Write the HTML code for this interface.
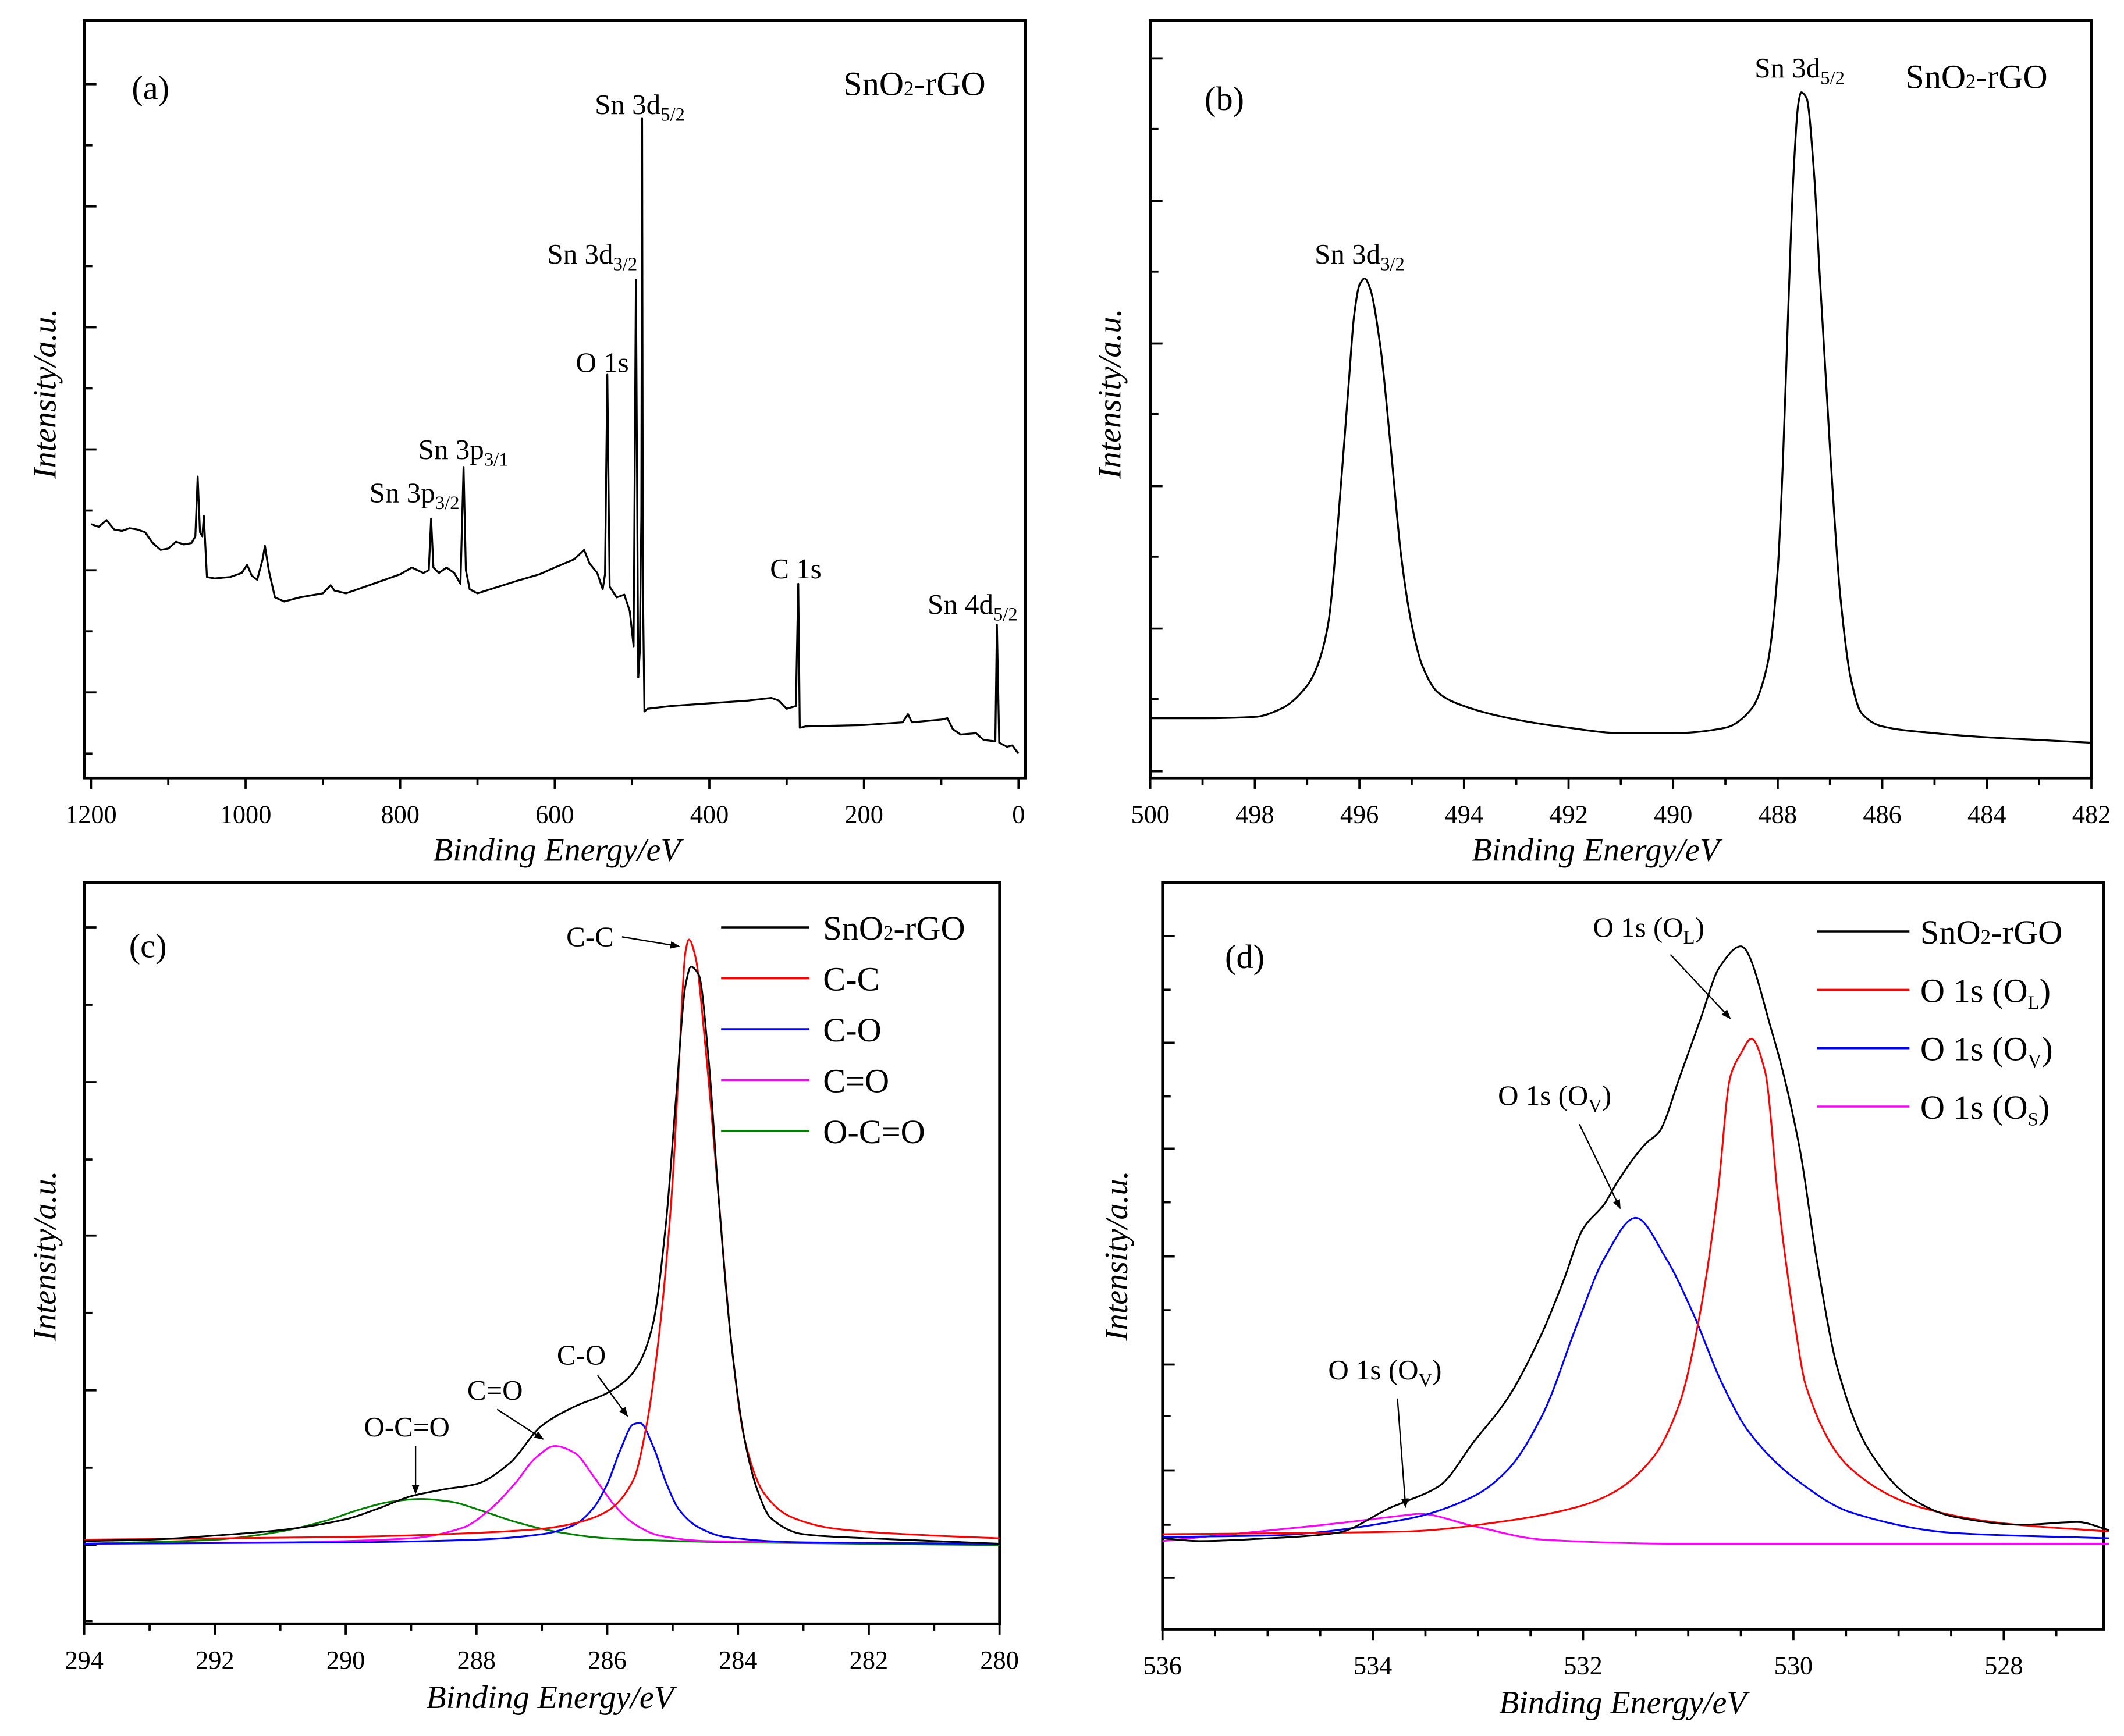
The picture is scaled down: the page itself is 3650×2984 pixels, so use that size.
<!DOCTYPE html>
<html><head><meta charset="utf-8"><style>
html,body{margin:0;padding:0;background:#fff;}
svg{display:block;}
text{font-family:"Liberation Serif",serif;fill:#000;}
.tick{font-size:19px;}
.ttl{font-size:24px;font-style:italic;}
.lbl{font-size:21px;}
.leg{font-size:25px;}
</style></head><body>
<svg id="fig" width="3650" height="2984" viewBox="0 0 1564 1278.6" xmlns="http://www.w3.org/2000/svg">
<defs><marker id="ah" viewBox="0 0 10 10" refX="9" refY="5" markerWidth="7" markerHeight="7" orient="auto"><path d="M0,1 L10,5 L0,9 z" fill="#000"/></marker></defs>
</svg>
<script>
// ---- panel (a) survey ----
const aEnergy=[1200,1190,1180,1170,1160,1150,1140,1130,1120,1110,1100,1090,1080,1070,1065,1062,1059,1056,1054,1050,1040,1020,1005,998,992,985,978,975,970,962,950,930,900,890,885,870,850,800,785,770,763,760,757,750,740,730,722,718,715,710,700,650,620,600,575,562,555,545,538,535,532,529,520,510,503,498,495,492,490,488,487,486,484,480,450,400,350,320,310,300,288,285,283,275,200,150,143,138,100,92,85,75,55,45,30,28,25,15,8,3,0];
const aIntensity=[214,212,217,210,209,211,210,208,200,195,196,201,199,200,205,249,208,205,220,175,174,175,178,184,176,173,188,198,180,160,157,160,163,169,165,163,167,177,182,178,180,218,182,178,182,178,170,256,180,166,163,172,177,182,188,195,185,178,166,177,324,168,160,162,150,124,394,101,120,220,513,170,76,78,80,82,84,86,84,78,80,170,64,65,66,68,74,68,70,71,63,59,60,55,54,140,53,50,51,47,45];
// ---- panel (b) Sn 3d ----
const bEnergy=[500,499,498,497.5,497,496.8,496.6,496.4,496.2,496.1,496,495.9,495.8,495.6,495.4,495.2,495,494.8,494.5,494,493,492,491,490,489,488.5,488.2,488,487.9,487.8,487.7,487.6,487.55,487.45,487.3,487.2,487,486.8,486.6,486.4,486,485,484,483,482];
const bIntensity=[71,71,72,78,95,110,140,220,320,368,390,395,388,345,270,190,140,110,90,80,70,64,60,60,64,78,110,180,260,370,470,525,532,528,470,400,270,160,100,75,65,60,57,55,53];
// ---- panel (c) C 1s ----
const cTotalE=[294,293,292,291,290,289.5,289,288.5,288,287.5,287,286.5,286,285.7,285.5,285.3,285.1,284.95,284.8,284.72,284.6,284.45,284.3,284.1,283.9,283.7,283.5,283,282,281,280];
const cTotalI=[65,66,69,73,81,89,98,103,107,122,150,164,174,184,197,225,300,390,475,488,482,420,320,210,140,102,82,70,67,65,63];
const cCCE=[294,290,288,287,286.5,286,285.6,285.4,285.2,285,284.9,284.8,284.75,284.65,284.5,284.3,284.1,283.9,283.6,283.2,282.5,281,280];
const cCCI=[66,68,71,74,78,87,110,150,220,330,420,500,508,495,430,320,210,140,100,83,74,69,67];
const cCOE=[294,290,288,287,286.5,286.2,286,285.8,285.6,285.5,285.3,285.1,284.9,284.6,284.2,283,280];
const cCOI=[63,64,66,70,77,90,107,132,151,152,135,108,88,75,68,64,63];
const cCdOE=[294,291,289,288.2,287.8,287.4,287.1,286.8,286.5,286.2,285.9,285.6,285.2,284.5,280];
const cCdOI=[63,64,67,75,88,108,126,135,130,112,92,78,69,65,63];
const cOCOE=[294,292,291,290.3,289.8,289.3,288.85,288.4,287.9,287.4,286.8,286,284,280];
const cOCOI=[63,66,72,80,88,94,96,94,87,79,72,67,64,62];
// ---- panel (d) O 1s ----
const dTotalE=[536,535.64,534.99,534.34,533.82,533.69,533.36,533.04,532.71,532.38,532.19,532,531.8,531.67,531.4,531.28,531.08,530.89,530.7,530.5,530.2,529.94,529.78,529.58,529.29,528.87,528.48,527.82,527.3,527];
const dTotalI=[67,65,67,71,90,94,106,138,171,220,256,295,313,330,358,366,407,448,488,503,439,354,273,192,133,96,83,77,79,73];
const dOLE=[536,533.69,532.71,532.06,531.73,531.34,531.08,530.89,530.72,530.6,530.5,530.4,530.27,530.14,530,529.88,529.45,528.8,528,527];
const dOLI=[70,72,80,90,100,126,167,232,321,407,424,435,411,313,232,179,118,90,78,72];
const dOVE=[536,535,533.69,533.04,532.71,532.38,532.06,531.8,531.5,531.21,530.95,530.69,530.43,529.97,529.45,528.48,527];
const dOVI=[68,69,81,98,118,159,224,273,303,273,232,183,146,110,86,71,67];
const dOSE=[536,534.34,533.69,533.56,533.04,532.38,531.08,527];
const dOSI=[65,78,84,85,76,66,63,63];
// tick labels
const aTicks=[1200,1000,800,600,400,200,0];
const bTicks=[500,498,496,494,492,490,488,486,484,482];
const cTicks=[294,292,290,288,286,284,282,280];
const dTicks=[536,534,532,530,528];

const NS='http://www.w3.org/2000/svg';
const svg=document.getElementById('fig');
function mk(tag,attrs,parent){const e=document.createElementNS(NS,tag);for(const k in attrs)e.setAttribute(k,attrs[k]);(parent||svg).appendChild(e);return e;}
function txt(parent,x,y,s,cls,extra){const t=mk('text',Object.assign({x:x,y:y,class:cls},extra||{}),parent);t.innerHTML=s;return t;}

function panel(name,f,xd,base,xTicks,xMinorStep,yTickYs){
  const g=mk('g',{});
  
  
  const xs=e=>f.l+(xd[0]-e)/(xd[0]-xd[1])*(f.r-f.l);
  const ys=v=>base-v;
  const fr=mk('rect',{x:f.l,y:f.t,width:f.r-f.l,height:f.b-f.t,fill:'none',stroke:'#000','stroke-width':2},g);
  
  
  const lo=Math.min(xd[0],xd[1]),hi=Math.max(xd[0],xd[1]);
  for(let v=Math.ceil(lo/xMinorStep)*xMinorStep;v<=hi+1e-9;v+=xMinorStep){
    const major=xTicks.some(t=>Math.abs(t-v)<1e-6);
    mk('line',{x1:xs(v),x2:xs(v),y1:f.b,y2:f.b+(major?8:5),stroke:'#000','stroke-width':1.6},g);
  }
  xTicks.forEach(v=>{const t=txt(g,xs(v),f.b+33,String(v),'tick',{'text-anchor':'middle'});
    
    });
  yTickYs.forEach((y,i)=>mk('line',{x1:f.l,x2:f.l+(i%2==0?9:6),y1:y,y2:y,stroke:'#000','stroke-width':1.6},g));
  return {g,xs,ys};
}
// monotone cubic path through points
function smoothPath(X,Y){
  const n=X.length;if(n<3){let d='';X.forEach((x,i)=>d+=(i?'L':'M')+x+','+Y[i]);return d;}
  const dx=[],m=[],t=new Array(n);
  for(let i=0;i<n-1;i++){dx.push(X[i+1]-X[i]);m.push((Y[i+1]-Y[i])/(X[i+1]-X[i]));}
  t[0]=m[0];t[n-1]=m[n-2];
  for(let i=1;i<n-1;i++){ if(m[i-1]*m[i]<=0) t[i]=0; else { const w1=2*dx[i]+dx[i-1],w2=dx[i]+2*dx[i-1]; t[i]=(w1+w2)/(w1/m[i-1]+w2/m[i]); } }
  let d='M'+X[0].toFixed(2)+','+Y[0].toFixed(2);
  for(let i=0;i<n-1;i++){const h=dx[i]/3;
    d+='C'+(X[i]+h).toFixed(2)+','+(Y[i]+t[i]*h).toFixed(2)+' '+(X[i+1]-h).toFixed(2)+','+(Y[i+1]-t[i+1]*h).toFixed(2)+' '+X[i+1].toFixed(2)+','+Y[i+1].toFixed(2);}
  return d;
}
function series(P,E,I,color,name,w,smooth){
  const X=E.map(P.xs),Y=I.map(P.ys);
  let d;
  if(smooth) d=smoothPath(X,Y);
  else {d='';X.forEach((x,i)=>{d+=(i?'L':'M')+x.toFixed(2)+','+Y[i].toFixed(2);});}
  const p=mk('path',{d:d,fill:'none',stroke:color,'stroke-width':w||1.3,'stroke-linejoin':'round'},P.g);
  
  
}
function arrow(P,x1,y1,x2,y2){const a=mk('line',{x1,y1,x2,y2,stroke:'#000','stroke-width':1,'marker-end':'url(#ah)'},P.g);
  
  }
function label(P,x,y,s,cls,name,extra){const t=txt(P.g,x,y,s,cls,extra);
  
  return t;}
const sub=(s)=>'<tspan dy="5" font-size="14">'+s+'</tspan>';

// Panel a
const A=panel('panel-a-survey',{l:62,t:15,r:755,b:573},[1208.8,-8.8],600,aTicks,100,[62,107,152,196,241,286,331,376,420,465,510,555]);
series(A,aEnergy,aIntensity,'#000','survey-spectrum',1.4,false);
label(A,97,73,'(a)','leg','panel-label-a');
label(A,621,70,'SnO<tspan font-size="15">2</tspan>-rGO','leg','sample-label-a');
label(A,438,84,'Sn 3d'+sub('5/2'),'lbl','peak-label-sn3d52');
label(A,403,194,'Sn 3d'+sub('3/2'),'lbl','peak-label-sn3d32');
label(A,424,274,'O 1s','lbl','peak-label-o1s');
label(A,308,338,'Sn 3p'+sub('3/1'),'lbl','peak-label-sn3p31');
label(A,272,370,'Sn 3p'+sub('3/2'),'lbl','peak-label-sn3p32');
label(A,567,426,'C 1s','lbl','peak-label-c1s');
label(A,683,452,'Sn 4d'+sub('5/2'),'lbl','peak-label-sn4d');
label(A,410,634,'Binding Energy/eV','ttl','x-axis-title-a',{'text-anchor':'middle'});
label(A,0,0,'Intensity/a.u.','ttl','y-axis-title-a',{'text-anchor':'middle',transform:'translate(41,290) rotate(-90)'});

// Panel b
const B=panel('panel-b-sn3d',{l:847,t:15,r:1540,b:573},[500,482],600,bTicks,1,[43,95,148,200,253,305,358,410,463,515,568]);
series(B,bEnergy,bIntensity,'#000','sn3d-spectrum',1.4,true);
label(B,887,81,'(b)','leg','panel-label-b');
label(B,1403,65,'SnO<tspan font-size="15">2</tspan>-rGO','leg','sample-label-b');
label(B,1292,57,'Sn 3d'+sub('5/2'),'lbl','peak-label-sn3d52-b');
label(B,968,194,'Sn 3d'+sub('3/2'),'lbl','peak-label-sn3d32-b');
label(B,1175,634,'Binding Energy/eV','ttl','x-axis-title-b',{'text-anchor':'middle'});
label(B,0,0,'Intensity/a.u.','ttl','y-axis-title-b',{'text-anchor':'middle',transform:'translate(825,290) rotate(-90)'});

// Panel c
const C=panel('panel-c-c1s',{l:62,t:650,r:736,b:1196},[294,280],1200,cTicks,1,[683,740,797,854,910,967,1024,1081,1138,1194]);
series(C,cOCOE,cOCOI,'#008000','fit-o-c-o',1.3,true);
series(C,cCdOE,cCdOI,'#ff00ff','fit-c-double-o',1.3,true);
series(C,cCOE,cCOI,'#0000ff','fit-c-o',1.3,true);
series(C,cCCE,cCCI,'#ff0000','fit-c-c',1.3,true);
series(C,cTotalE,cTotalI,'#000','c1s-spectrum',1.3,true);
label(C,95,705,'(c)','leg','panel-label-c');
[['SnO<tspan font-size="15">2</tspan>-rGO','#000'],['C-C','#ff0000'],['C-O','#0000ff'],['C=O','#ff00ff'],['O-C=O','#008000']].forEach((r,i)=>{
  const y=683+i*37.5;
  const l=mk('line',{x1:531,x2:596,y1:y,y2:y,stroke:r[1],'stroke-width':1.5},C.g);
  
  
  label(C,606,y+9,r[0],'leg','legend-entry');
});
label(C,417,697,'C-C','lbl','annot-c-c',{'font-size':'18px'});arrow(C,458,690,500,697);
label(C,410,1005,'C-O','lbl','annot-c-o',{'font-size':'18px'});arrow(C,440,1013,462,1043);
label(C,344,1031,'C=O','lbl','annot-c-double-o',{'font-size':'18px'});arrow(C,366,1038,400,1060);
label(C,268,1058,'O-C=O','lbl','annot-o-c-o',{'font-size':'18px'});arrow(C,306,1065,306,1100);
label(C,405,1258,'Binding Energy/eV','ttl','x-axis-title-c',{'text-anchor':'middle'});
label(C,0,0,'Intensity/a.u.','ttl','y-axis-title-c',{'text-anchor':'middle',transform:'translate(41,925) rotate(-90)'});

// Panel d
const D=panel('panel-d-o1s',{l:856,t:650,r:1549,b:1200},[536,527.05],1200,dTicks,0.5,[689.5,729,768,807.5,846,885.5,925.4,965,1005,1043,1083,1123,1162]);
series(D,dOSE,dOSI,'#ff00ff','fit-o-s',1.3,true);
series(D,dOVE,dOVI,'#0000ff','fit-o-v',1.3,true);
series(D,dOLE,dOLI,'#ff0000','fit-o-l',1.3,true);
series(D,dTotalE,dTotalI,'#000','o1s-spectrum',1.3,true);
label(D,902,713,'(d)','leg','panel-label-d');
[['SnO<tspan font-size="15">2</tspan>-rGO','#000'],['O 1s (O'+sub('L')+'<tspan dy="-5">)</tspan>','#ff0000'],['O 1s (O'+sub('V')+'<tspan dy="-5">)</tspan>','#0000ff'],['O 1s (O'+sub('S')+'<tspan dy="-5">)</tspan>','#ff00ff']].forEach((r,i)=>{
  const y=686+i*43;
  const l=mk('line',{x1:1338,x2:1406,y1:y,y2:y,stroke:r[1],'stroke-width':1.5},D.g);
  
  
  label(D,1414,y+9,r[0],'leg','legend-entry');
});
label(D,1173,690,'O 1s (O'+sub('L')+'<tspan dy="-5">)</tspan>','lbl','annot-o-l',{'font-size':'19px'});arrow(D,1230,703,1274,750);
label(D,1103,814,'O 1s (O'+sub('V')+'<tspan dy="-5">)</tspan>','lbl','annot-o-v',{'font-size':'19px'});arrow(D,1163,828,1193,890);
label(D,978,1016,'O 1s (O'+sub('V')+'<tspan dy="-5">)</tspan>','lbl','annot-o-s',{'font-size':'19px'});arrow(D,1029,1030,1035,1110);
label(D,1195,1262,'Binding Energy/eV','ttl','x-axis-title-d',{'text-anchor':'middle'});
label(D,0,0,'Intensity/a.u.','ttl','y-axis-title-d',{'text-anchor':'middle',transform:'translate(830,925) rotate(-90)'});
</script>
</body></html>
